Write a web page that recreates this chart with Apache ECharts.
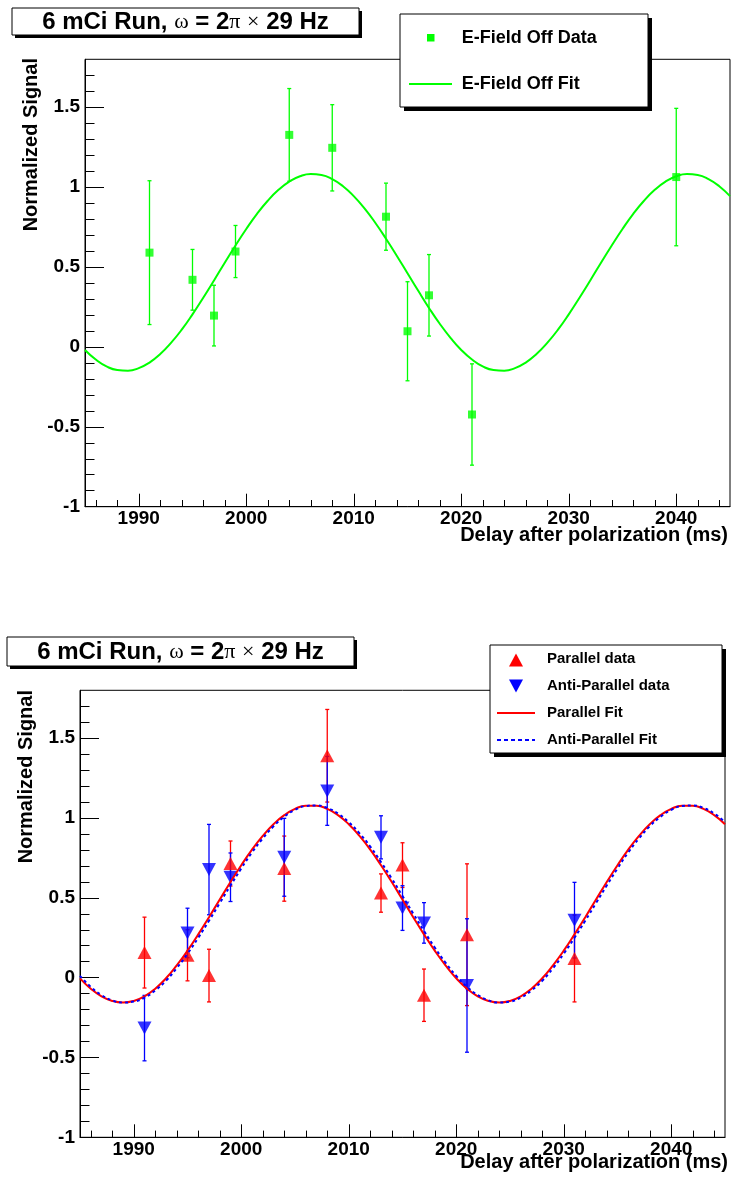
<!DOCTYPE html>
<html><head><meta charset="utf-8">
<script src="https://cdn.jsdelivr.net/npm/echarts@6/dist/echarts.min.js"></script>
<style>html,body{margin:0;padding:0;background:#fff}#c{width:733px;height:1185px}</style>
</head><body><div id="c"></div>
<script>
// ---------- data ----------
const delaysTop = [1991, 1995, 1997, 1999, 2004, 2008, 2013, 2015, 2017, 2021, 2040];
const signalOff = [0.59, 0.42, 0.196, 0.597, 1.327, 1.246, 0.815, 0.098, 0.323, -0.423, 1.063];
const errorOff  = [0.45, 0.19, 0.19, 0.163, 0.29, 0.27, 0.21, 0.31, 0.255, 0.317, 0.43];

const delaysBottom = [1991, 1995, 1997, 1999, 2004, 2008, 2013, 2015, 2017, 2021, 2031];
const signalPar   = [0.157, 0.14, 0.013, 0.715, 0.683, 1.39, 0.53, 0.705, -0.11, 0.269, 0.12];
const errorPar    = [0.222, 0.16, 0.165, 0.141, 0.204, 0.29, 0.12, 0.14, 0.164, 0.444, 0.272];
const signalAnti  = [-0.316, 0.28, 0.677, 0.629, 0.754, 1.17, 0.879, 0.436, 0.343, -0.049, 0.36];
const errorAnti   = [0.205, 0.155, 0.283, 0.152, 0.244, 0.216, 0.135, 0.14, 0.127, 0.418, 0.237];

// fit curves, read every 1 ms (1985 ... 2045)
const fitDelays = [1985,1986,1987,1988,1989,1990,1991,1992,1993,1994,1995,1996,1997,1998,1999,2000,2001,2002,2003,2004,2005,2006,2007,2008,2009,2010,2011,2012,2013,2014,2015,2016,2017,2018,2019,2020,2021,2022,2023,2024,2025,2026,2027,2028,2029,2030,2031,2032,2033,2034,2035,2036,2037,2038,2039,2040,2041,2042,2043,2044,2045];
const fitOff = [-0.019,-0.079,-0.122,-0.145,-0.149,-0.133,-0.098,-0.045,0.025,0.108,0.204,0.308,0.416,0.527,0.635,0.738,0.833,0.915,0.983,1.035,1.068,1.082,1.076,1.050,1.006,0.944,0.867,0.777,0.677,0.571,0.461,0.351,0.244,0.145,0.057,-0.019,-0.079,-0.122,-0.145,-0.149,-0.133,-0.098,-0.045,0.025,0.108,0.204,0.308,0.416,0.527,0.635,0.738,0.833,0.915,0.983,1.035,1.068,1.082,1.076,1.050,1.006,0.944];
const fitPar = [-0.004,-0.069,-0.117,-0.146,-0.156,-0.146,-0.117,-0.069,-0.004,0.077,0.169,0.271,0.379,0.489,0.599,0.704,0.802,0.888,0.961,1.018,1.057,1.077,1.077,1.057,1.018,0.961,0.888,0.802,0.704,0.599,0.489,0.379,0.271,0.169,0.077,-0.004,-0.069,-0.117,-0.146,-0.156,-0.146,-0.117,-0.069,-0.004,0.077,0.169,0.271,0.379,0.489,0.599,0.704,0.802,0.888,0.961,1.018,1.057,1.077,1.077,1.057,1.018,0.961];
const fitAnti = [0.011,-0.058,-0.109,-0.142,-0.156,-0.150,-0.125,-0.080,-0.019,0.060,0.150,0.250,0.357,0.467,0.577,0.684,0.784,0.872,0.948,1.008,1.051,1.075,1.079,1.063,1.028,0.974,0.904,0.821,0.724,0.621,0.511,0.401,0.292,0.189,0.094,0.011,-0.058,-0.109,-0.142,-0.156,-0.150,-0.125,-0.080,-0.019,0.059,0.150,0.250,0.357,0.467,0.577,0.684,0.784,0.872,0.948,1.008,1.051,1.075,1.079,1.063,1.028,0.974];

// axis ticks
const xMajorTicks = [1990, 2000, 2010, 2020, 2030, 2040];
const xMinorTicks = [1986,1988,1992,1994,1996,1998,2002,2004,2006,2008,2012,2014,2016,2018,2022,2024,2026,2028,2032,2034,2036,2038,2042,2044];
const yMajorTicks = [-1, -0.5, 0, 0.5, 1, 1.5];
const yMinorTicks = [-0.9,-0.8,-0.7,-0.6,-0.4,-0.3,-0.2,-0.1,0.1,0.2,0.3,0.4,0.6,0.7,0.8,0.9,1.1,1.2,1.3,1.4,1.6,1.7];

const titleText = '{b|6 mCi Run, }{s|ω}{b| = 2}{s|π}{b| }{s|×}{b| 29 Hz}';
const xTitle = 'Delay after polarization (ms)';
const yTitle = 'Normalized Signal';

// ---------- helpers ----------
const FONT = 'Liberation Sans, Arial, Helvetica, sans-serif';
const zip = (a, b) => a.map((v, i) => [v, b[i]]);
const errData = (x, y, e) => x.map((v, i) => [v, y[i] - e[i], y[i] + e[i]]);
const plain = v => String(v);

function xAxes(g) {
  const base = {type: 'value', gridIndex: g, min: 1985, max: 2045, position: 'bottom', splitLine: {show: false}};
  return [
    Object.assign({}, base, {
      axisLine: {show: true, onZero: false, lineStyle: {color: '#000', width: 1}},
      axisTick: {show: true, inside: true, length: 13, customValues: xMajorTicks, lineStyle: {color: '#000', width: 1}},
      axisLabel: {show: true, customValues: xMajorTicks, formatter: plain, margin: 3, color: '#000', fontFamily: FONT, fontWeight: 'bold', fontSize: 19}
    }),
    Object.assign({}, base, {
      axisLine: {show: false, onZero: false},
      axisTick: {show: true, inside: true, length: 6.7, customValues: xMinorTicks, lineStyle: {color: '#000', width: 1}},
      axisLabel: {show: false}
    })
  ];
}
function yAxes(g) {
  const base = {type: 'value', gridIndex: g, min: -1, max: 1.8, position: 'left', splitLine: {show: false}};
  return [
    Object.assign({}, base, {
      axisLine: {show: true, onZero: false, lineStyle: {color: '#000', width: 1}},
      axisTick: {show: true, inside: true, length: 19, customValues: yMajorTicks, lineStyle: {color: '#000', width: 1}},
      axisLabel: {show: true, customValues: yMajorTicks, formatter: plain, margin: 5, color: '#000', fontFamily: FONT, fontWeight: 'bold', fontSize: 19}
    }),
    Object.assign({}, base, {
      axisLine: {show: false, onZero: false},
      axisTick: {show: true, inside: true, length: 9.5, customValues: yMinorTicks, lineStyle: {color: '#000', width: 1}},
      axisLabel: {show: false}
    })
  ];
}
function errSeries(name, data, color, xi, yi) {
  return {
    type: 'custom', name: name, xAxisIndex: xi, yAxisIndex: yi, data: data,
    encode: {x: 0, y: [1, 2]},
    renderItem: function (params, api) {
      const x = api.value(0), lo = api.value(1), hi = api.value(2);
      const p1 = api.coord([x, lo]), p2 = api.coord([x, hi]);
      const c = 2;
      const st = {stroke: color, lineWidth: 1.3};
      return {type: 'group', children: [
        {type: 'line', shape: {x1: p1[0], y1: p1[1], x2: p2[0], y2: p2[1]}, style: st},
        {type: 'line', shape: {x1: p1[0] - c, y1: p1[1], x2: p1[0] + c, y2: p1[1]}, style: st},
        {type: 'line', shape: {x1: p2[0] - c, y1: p2[1], x2: p2[0] + c, y2: p2[1]}, style: st}
      ]};
    }
  };
}
function titleBox(x, y, w, h) {
  return [
    {type: 'rect', shape: {x: x + 3, y: y + 3, width: w, height: h}, style: {fill: '#000'}},
    {type: 'rect', shape: {x: x, y: y, width: w, height: h}, style: {fill: '#fff', stroke: '#000', lineWidth: 1}},
    {type: 'text', x: x + w / 2, y: y + h / 2 + 1, style: {
      text: titleText, align: 'center', verticalAlign: 'middle',
      rich: {
        b: {fontFamily: FONT, fontWeight: 'bold', fontSize: 24, fill: '#000'},
        s: {fontFamily: 'Liberation Serif, DejaVu Serif, serif', fontSize: 22, fill: '#000'}
      }
    }}
  ];
}
function txt(x, y, s, size, align, rot) {
  return {type: 'text', x: x, y: y, rotation: rot || 0, style: {
    text: s, fontFamily: FONT, fontWeight: 'bold', fontSize: size, fill: '#000',
    align: align || 'left', verticalAlign: 'middle'}};
}
function triangle(cx, cy, up, color) {
  const w = 7, h = 6.5;
  const pts = up ? [[cx - w, cy + h], [cx + w, cy + h], [cx, cy - h]]
                 : [[cx - w, cy - h], [cx + w, cy - h], [cx, cy + h]];
  return {type: 'polygon', shape: {points: pts}, style: {fill: color}};
}

const graphics = [].concat(
  titleBox(12, 8, 347, 27),
  titleBox(7, 637, 347, 29),
  [
    // top legend
    {type: 'rect', shape: {x: 404, y: 18, width: 248, height: 93}, style: {fill: '#000'}},
    {type: 'rect', shape: {x: 400, y: 14, width: 248, height: 93}, style: {fill: '#fff', stroke: '#000', lineWidth: 1}},
    {type: 'rect', shape: {x: 427, y: 34, width: 7.5, height: 7.5}, style: {fill: '#00ff00'}},
    txt(461.7, 38, 'E-Field Off Data', 18),
    {type: 'line', shape: {x1: 409, y1: 84, x2: 452, y2: 84}, style: {stroke: '#00ff00', lineWidth: 2}},
    txt(461.7, 84, 'E-Field Off Fit', 18),
    // bottom legend
    {type: 'rect', shape: {x: 494, y: 649, width: 232, height: 108}, style: {fill: '#000'}},
    {type: 'rect', shape: {x: 490, y: 645, width: 232, height: 108}, style: {fill: '#fff', stroke: '#000', lineWidth: 1}},
    triangle(516, 660, true, '#ff0000'),
    txt(547, 659, 'Parallel data', 15),
    triangle(516, 686, false, '#0000ff'),
    txt(547, 686, 'Anti-Parallel data', 15),
    {type: 'line', shape: {x1: 497, y1: 713, x2: 535, y2: 713}, style: {stroke: '#ff0000', lineWidth: 2}},
    txt(547, 713, 'Parallel Fit', 15),
    {type: 'line', shape: {x1: 497, y1: 740, x2: 535, y2: 740}, style: {stroke: '#0000ff', lineWidth: 2, lineDash: [4, 3]}},
    txt(547, 740, 'Anti-Parallel Fit', 15),
    // axis titles
    txt(31, 58, yTitle, 20, 'right', Math.PI / 2),
    txt(26, 690, yTitle, 20, 'right', Math.PI / 2),
    txt(728, 535, xTitle, 20, 'right'),
    txt(728, 1162, xTitle, 20, 'right')
  ]
);

const option = {
  animation: false,
  backgroundColor: '#fff',
  grid: [
    {left: 85, top: 59.3, width: 645, height: 447.4, show: true, borderColor: '#000', borderWidth: 1, backgroundColor: 'transparent', containLabel: false, outerBoundsMode: 'none'},
    {left: 80, top: 690.3, width: 645, height: 447, show: true, borderColor: '#000', borderWidth: 1, backgroundColor: 'transparent', containLabel: false, outerBoundsMode: 'none'}
  ],
  xAxis: xAxes(0).concat(xAxes(1)),
  yAxis: yAxes(0).concat(yAxes(1)),
  series: [
    errSeries('E-Field Off Errors', errData(delaysTop, signalOff, errorOff), '#00ff00', 0, 0),
    {type: 'scatter', name: 'E-Field Off Data', xAxisIndex: 0, yAxisIndex: 0, data: zip(delaysTop, signalOff),
     symbol: 'rect', symbolSize: 8, itemStyle: {color: '#00ff00'}},
    {type: 'line', name: 'E-Field Off Fit', xAxisIndex: 0, yAxisIndex: 0, data: zip(fitDelays, fitOff),
     smooth: true, showSymbol: false, symbol: 'none', lineStyle: {color: '#00ff00', width: 2}},

    errSeries('Parallel Errors', errData(delaysBottom, signalPar, errorPar), '#ff0000', 2, 2),
    {type: 'scatter', name: 'Parallel data', xAxisIndex: 2, yAxisIndex: 2, data: zip(delaysBottom, signalPar),
     symbol: 'triangle', symbolSize: [14, 13], itemStyle: {color: '#ff0000'}},
    errSeries('Anti-Parallel Errors', errData(delaysBottom, signalAnti, errorAnti), '#0000ff', 2, 2),
    {type: 'scatter', name: 'Anti-Parallel data', xAxisIndex: 2, yAxisIndex: 2, data: zip(delaysBottom, signalAnti),
     symbol: 'triangle', symbolRotate: 180, symbolSize: [14, 13], itemStyle: {color: '#0000ff'}},
    {type: 'line', name: 'Parallel Fit', xAxisIndex: 2, yAxisIndex: 2, data: zip(fitDelays, fitPar),
     smooth: true, showSymbol: false, symbol: 'none', lineStyle: {color: '#ff0000', width: 2}},
    {type: 'line', name: 'Anti-Parallel Fit', xAxisIndex: 2, yAxisIndex: 2, data: zip(fitDelays, fitAnti),
     smooth: true, showSymbol: false, symbol: 'none', lineStyle: {color: '#0000ff', width: 2, type: [3, 3]}}
  ],
  graphic: graphics
};

const chart = echarts.init(document.getElementById('c'), null, {renderer: 'canvas'});
chart.setOption(option);
</script>
</body></html>
